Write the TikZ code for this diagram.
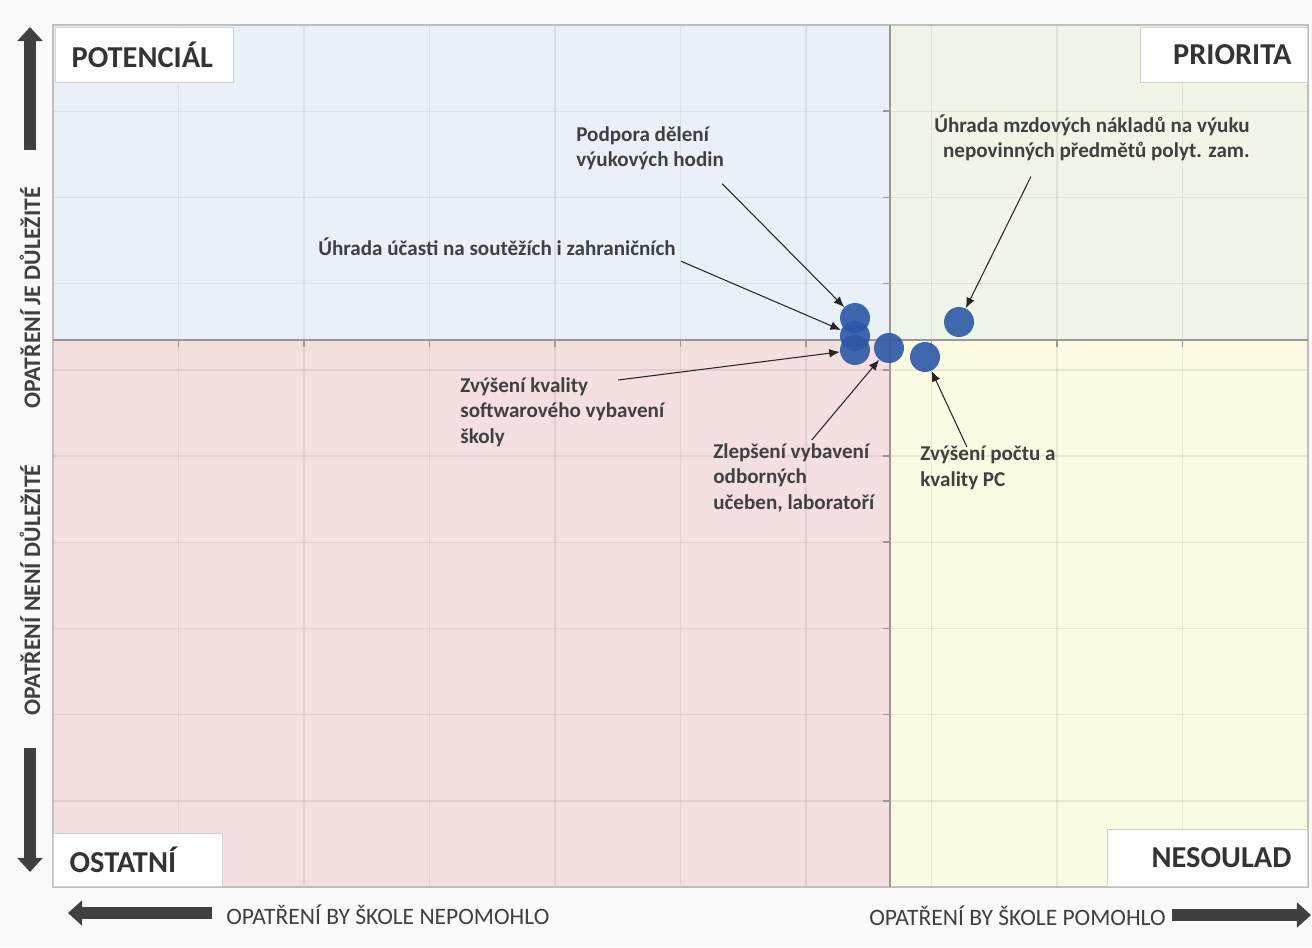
\documentclass[tikz,border=0pt]{standalone}
\usepackage{fontspec}
\setmainfont{Carlito}
\usetikzlibrary{arrows.meta}

\definecolor{potbg}{RGB}{233,240,248}
\definecolor{pribg}{RGB}{239,245,231}
\definecolor{ostbg}{RGB}{244,224,224}
\definecolor{nesbg}{RGB}{251,251,228}
\definecolor{dotblue}{RGB}{44,88,166}
\definecolor{txt}{RGB}{64,64,64}

\begin{document}
\begin{tikzpicture}[x=0.02cm,y=-0.02cm,
    gridline/.style={draw=black,opacity=0.07,line width=0.8pt},
    divider/.style={draw=black!40,line width=1pt},
    corner/.style={draw=black!18,fill=white,line width=0.7pt,inner xsep=0.32cm,minimum height=1.1cm,
      font=\fontsize{17.3}{20}\selectfont\bfseries,text=black!80},
    lbl/.style={inner sep=0pt,align=left,font=\fontsize{12}{14.7}\selectfont\bfseries,text=txt},
    axislbl/.style={inner sep=0pt,font=\fontsize{13.4}{16}\selectfont,text=txt},
    dot/.style={circle,fill=dotblue,fill opacity=0.9,minimum size=0.6cm,inner sep=0pt},
    callout/.style={draw=black!85,line width=0.6pt,-{Latex[length=6pt,width=5pt]}},
    fatarrow/.style={draw=txt,line width=6.3pt,-{Triangle[length=8pt,width=14pt]}}]
  \useasboundingbox (0,0) rectangle (1312,947);
  \fill[black!2] (0,0) rectangle (1312,947);

  % quadrants
  \fill[potbg] (53,25) rectangle (890,340);
  \fill[pribg] (890,25) rectangle (1308,340);
  \fill[ostbg] (53,340) rectangle (890,887);
  \fill[nesbg] (890,340) rectangle (1308,887);
  \foreach \i in {1,...,9} {
    \draw[gridline] ({53+125.5*\i},25) -- ({53+125.5*\i},887);
    \draw[gridline] (53,{25+86.2*\i}) -- (1308,{25+86.2*\i});
  }
  \draw[black!25,line width=0.8pt] (53,25) rectangle (1308,887);
  \draw[divider] (890,25) -- (890,887);
  \draw[divider] (53,340) -- (1308,340);
  \foreach \i in {1,...,9} {
    \draw[divider] (883,{25+86.2*\i}) -- (890,{25+86.2*\i});
    \draw[divider] ({53+125.5*\i},340) -- ({53+125.5*\i},347);
  }

  % corner boxes
  \node[corner,anchor=north west,text width=2.92cm,align=left] (pot) at (55,27) {POTENCIÁL};
  \node[corner,anchor=north east,text width=2.70cm,align=right] (pri) at (1308,27) {PRIORITA};
  \node[corner,anchor=south west,text width=2.74cm,align=left,minimum height=1.06cm] (ost) at (53,887) {OSTATNÍ};
  \node[corner,anchor=south east,text width=3.36cm,align=right,minimum height=1.14cm] (nes) at (1308,887) {NESOULAD};

  % axes
  \draw[fatarrow] (30,150) -- (30,27);
  \draw[fatarrow] (30,748) -- (30,872);
  \draw[fatarrow] (212,913) -- (68,913);
  \draw[fatarrow] (1172,915) -- (1311,915);
  \node[axislbl,font=\fontsize{13.5}{16}\selectfont\bfseries,rotate=90] (je) at (30,298) {OPATŘENÍ JE DŮLEŽITÉ};
  \node[axislbl,font=\fontsize{13.5}{16}\selectfont\bfseries,rotate=90] (neni) at (30,590) {OPATŘENÍ NENÍ DŮLEŽITÉ};
  \node[axislbl,anchor=west] (nepom) at (226,915) {OPATŘENÍ BY ŠKOLE NEPOMOHLO};
  \node[axislbl,anchor=east] (pom) at (1166,916) {OPATŘENÍ BY ŠKOLE POMOHLO};

  % points
  \node[dot] (d1) at (855,318) {};
  \node[dot] (d2) at (855,336) {};
  \node[dot] (d3) at (855,350) {};
  \node[dot] (d4) at (889,348) {};
  \node[dot] (d5) at (925,357) {};
  \node[dot] (d6) at (959,322) {};

  % labels
  \node[lbl,anchor=north west] (podpora) at (576,126) {Podpora dělení\\výukových hodin};
  \node[lbl,anchor=base west] (ucast) at (318,255) {Úhrada účasti na soutěžích i zahraničních};
  \node[lbl,anchor=north west] (software) at (460,377) {Zvýšení kvality\\softwarového vybavení\\školy};
  \node[lbl,anchor=north west] (ucebny) at (713,443) {Zlepšení vybavení\\odborných\\učeben, laboratoří};
  \node[lbl,anchor=north west] (pc) at (920,446) {Zvýšení počtu a\\kvality PC};
  \node[lbl,anchor=north east,align=right] (mzdy) at (1250,114) {Úhrada mzdových nákladů na výuku\\nepovinných předmětů polyt. zam.};

  \draw[callout] ([shift={(-2,13)}]podpora.south east) -- (d1);
  \draw[callout] ([shift={(5,15)}]ucast.east) -- (d2);
  \draw[callout] ([shift={(56,3)}]software.north) -- (d3);
  \draw[callout] ([shift={(18,-3)}]ucebny.north) -- (d4);
  \draw[callout] ([shift={(-21,1)}]pc.north) -- (d5);
  \draw[callout] ([shift={(-61,15)}]mzdy.south) -- (d6);
\end{tikzpicture}
\end{document}
